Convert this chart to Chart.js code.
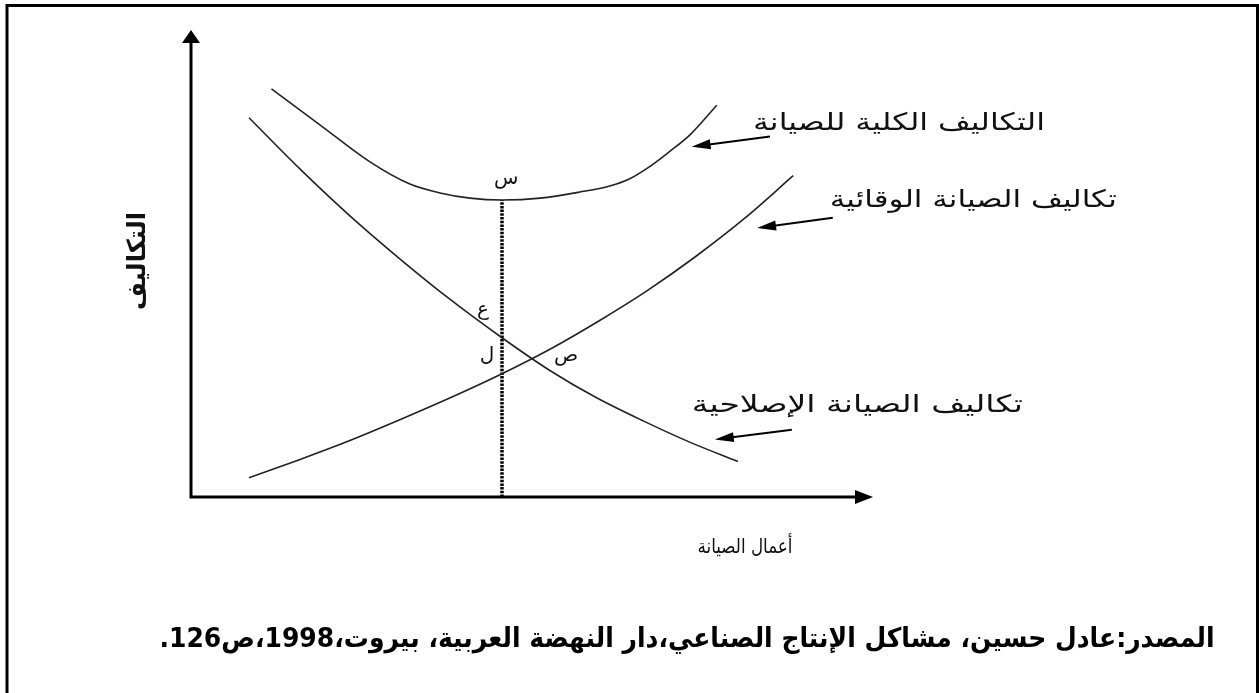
<!DOCTYPE html>
<html lang="ar">
<head>
<meta charset="utf-8">
<script src="https://cdn.jsdelivr.net/npm/chart.js@4.4.1/dist/chart.umd.min.js"></script>
<style>
  html, body { margin: 0; padding: 0; background: #fff; }
  #chart { display: block; }
</style>
</head>
<body>
<canvas id="chart" width="1259" height="693"></canvas>
<script>
// x = أعمال الصيانة , y = التكاليف  (both on a 0..100 scale)
const total_x = [11.8, 18.9, 26.3, 32.1, 36.5, 40.9, 45.6, 51.2, 57.0, 61.4, 64.4, 67.3, 70.2, 73.2, 77.1];
const total_y = [87.4, 79.7, 71.7, 67.0, 65.1, 64.0, 63.6, 64.0, 65.3, 66.6, 68.2, 70.8, 74.0, 77.6, 83.9];

const preventive_x = [8.5, 15.9, 23.3, 30.7, 38.1, 45.6, 52.7, 59.8, 66.9, 74.0, 81.2, 88.3];
const preventive_y = [4.1, 8.0, 12.1, 16.6, 21.3, 26.4, 31.7, 37.7, 44.2, 51.5, 59.7, 68.8];

const corrective_x = [8.5, 16.0, 23.3, 30.7, 38.0, 45.6, 52.5, 59.4, 66.3, 73.2, 80.2];
const corrective_y = [81.2, 70.2, 60.2, 50.9, 42.3, 34.1, 27.2, 21.3, 16.3, 11.7, 7.6];

// optimum level of maintenance (س)
const optimum_x = 45.6;
const optimum_y = 63.6;

const curve_labels = [
  "التكاليف الكلية للصيانة",
  "تكاليف الصيانة الوقائية",
  "تكاليف الصيانة الإصلاحية",
];
const point_labels = ["س", "ع", "ل", "ص"];
const y_title = "التكاليف";
const x_title = "أعمال الصيانة";
const source_text = "المصدر:عادل حسين، مشاكل الإنتاج الصناعي،دار النهضة العربية، بيروت،1998،ص126.";

function toPoints(xs, ys) {
  return xs.map((x, i) => ({ x: x, y: ys[i] }));
}

// where the annotations sit (in data units of the chart)
const pointLabelPos = [[46.2, 68.1], [42.8, 40.0], [43.4, 30.2], [55.0, 30.2]];
const curveLabelPos = [
  { x: 103.8, y: 80.0, w: 292 },
  { x: 114.7, y: 63.4, w: 287 },
  { x: 97.7, y: 19.5, w: 331 },
];
const arrows = [
  { from: [84.9, 77.2], to: [73.4, 75.0] },
  { from: [94.1, 59.8], to: [83.0, 57.6] },
  { from: [88.1, 14.4], to: [76.8, 12.3] },
];

const FONT = '"DejaVu Sans", sans-serif';

// draw text at a given font size, stretched horizontally to the width seen in the figure
function fitText(ctx, text, cx, cy, width, size, weight) {
  ctx.font = weight + " " + size + "px " + FONT;
  const w = ctx.measureText(text).width;
  ctx.save();
  ctx.translate(cx, cy);
  ctx.scale(width / w, 1);
  ctx.fillText(text, 0, 0);
  ctx.restore();
}

function arrowHead(ctx, x1, y1, x2, y2, len, half) {
  const a = Math.atan2(y2 - y1, x2 - x1);
  ctx.beginPath();
  ctx.moveTo(x2, y2);
  ctx.lineTo(x2 - len * Math.cos(a) + half * Math.sin(a), y2 - len * Math.sin(a) - half * Math.cos(a));
  ctx.lineTo(x2 - len * Math.cos(a) - half * Math.sin(a), y2 - len * Math.sin(a) + half * Math.cos(a));
  ctx.closePath();
  ctx.fill();
}

const decorations = {
  id: "decorations",
  afterDraw(chart) {
    const ctx = chart.ctx;
    const xs = chart.scales.x;
    const ys = chart.scales.y;
    const px = (v) => xs.getPixelForValue(v);
    const py = (v) => ys.getPixelForValue(v);

    ctx.save();
    ctx.fillStyle = "#000";
    ctx.strokeStyle = "#000";

    // page frame
    ctx.lineWidth = 3;
    ctx.beginPath();
    ctx.moveTo(7, 693);
    ctx.lineTo(7, 5.5);
    ctx.lineTo(1257.5, 5.5);
    ctx.lineTo(1257.5, 693);
    ctx.stroke();

    // axes with arrow heads
    const ox = px(0), oy = py(0);
    ctx.lineWidth = 3;
    ctx.beginPath();
    ctx.moveTo(ox, oy);
    ctx.lineTo(ox, py(100) + 10);
    ctx.moveTo(ox - 1.5, oy);
    ctx.lineTo(px(100) - 10, oy);
    ctx.stroke();
    arrowHead(ctx, ox, oy, ox, py(100), 13, 9);
    arrowHead(ctx, ox, oy, px(100), oy, 18, 7);

    // pointer arrows
    ctx.lineWidth = 2;
    arrows.forEach((a) => {
      const x1 = px(a.from[0]), y1 = py(a.from[1]);
      const x2 = px(a.to[0]), y2 = py(a.to[1]);
      ctx.beginPath();
      ctx.moveTo(x1, y1);
      ctx.lineTo(x2 + (x1 - x2) * 0.15, y2 + (y1 - y2) * 0.15);
      ctx.stroke();
      arrowHead(ctx, x1, y1, x2, y2, 19, 5);
    });

    // texts
    ctx.direction = "rtl";
    ctx.textAlign = "center";
    ctx.textBaseline = "middle";
    ctx.fillStyle = "#111";

    point_labels.forEach((t, i) => {
      ctx.font = "20px " + FONT;
      ctx.fillText(t, px(pointLabelPos[i][0]), py(pointLabelPos[i][1]));
    });

    curve_labels.forEach((t, i) => {
      const p = curveLabelPos[i];
      fitText(ctx, t, px(p.x), py(p.y), p.w, 24, "normal");
    });

    fitText(ctx, x_title, 745, 548, 95, 20, "normal");

    ctx.save();
    ctx.translate(138, 261);
    ctx.rotate(-Math.PI / 2);
    fitText(ctx, y_title, 0, 0, 98, 25, "bold");
    ctx.restore();

    ctx.fillStyle = "#000";
    fitText(ctx, source_text, 687, 640, 1055, 27, "bold");

    ctx.restore();
  },
};

new Chart(document.getElementById("chart"), {
  type: "line",
  data: {
    datasets: [
      {
        label: curve_labels[0],
        data: toPoints(total_x, total_y),
        borderColor: "#222",
        borderWidth: 1.6,
        cubicInterpolationMode: "monotone",
      },
      {
        label: curve_labels[1],
        data: toPoints(preventive_x, preventive_y),
        borderColor: "#222",
        borderWidth: 1.6,
        cubicInterpolationMode: "monotone",
      },
      {
        label: curve_labels[2],
        data: toPoints(corrective_x, corrective_y),
        borderColor: "#222",
        borderWidth: 1.6,
        cubicInterpolationMode: "monotone",
      },
      {
        label: "optimum",
        data: [{ x: optimum_x, y: 0 }, { x: optimum_x, y: optimum_y }],
        borderColor: "#000",
        borderWidth: 3.5,
        borderDash: [2.5, 1.2],
      },
    ],
  },
  options: {
    responsive: false,
    animation: false,
    layout: {
      padding: { left: 191, right: 386, top: 30, bottom: 196 },
    },
    elements: {
      point: { radius: 0 },
    },
    scales: {
      x: { type: "linear", min: 0, max: 100, display: false },
      y: { type: "linear", min: 0, max: 100, display: false },
    },
    plugins: {
      legend: { display: false },
      tooltip: { enabled: false },
    },
  },
  plugins: [decorations],
});
</script>
</body>
</html>
